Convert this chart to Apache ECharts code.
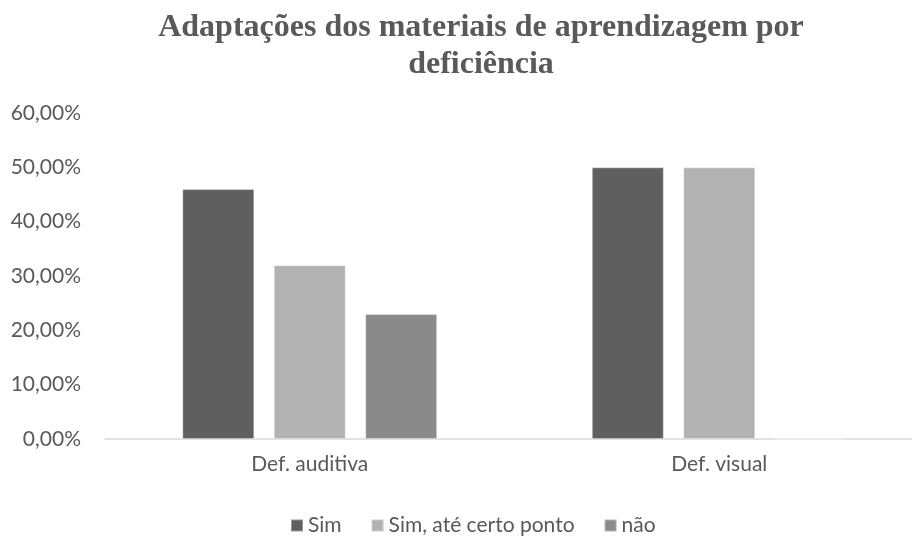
<!DOCTYPE html>
<html>
<head>
<meta charset="utf-8">
<script src="https://cdn.jsdelivr.net/npm/echarts@6/dist/echarts.min.js"></script>
<style>html,body{margin:0;padding:0;background:#fff;}#c{width:912px;height:536px;}</style>
</head>
<body>
<div id="c"></div>
<script>
const titleText = 'Adaptações dos materiais de aprendizagem por\ndeficiência';
const categories = ['Def. auditiva', 'Def. visual'];
const seriesNames = ['Sim', 'Sim, até certo ponto', 'não'];
const simValues = [0.46, 0.50];
const simAteValues = [0.32, 0.50];
const naoValues = [0.23, 0];
const yTicks = [0, 0.1, 0.2, 0.3, 0.4, 0.5, 0.6];
const colors = ['#5f5f5f', '#b2b2b2', '#8a8a8a'];

const font = 'Lato, "Open Sans", sans-serif';
const chart = echarts.init(document.getElementById('c'), null, {renderer: 'canvas'});
const fmt = v => (v * 100).toFixed(2).replace('.', ',') + '%';
const mk = (name, data, i) => ({
  name, type: 'bar', data, barWidth: 72, barGap: '27%',
  itemStyle: {color: colors[i], borderColor: 'rgba(255,255,255,0.35)', borderWidth: 1}
});
chart.setOption({
  animation: false,
  title: {
    text: titleText, left: 476, textAlign: 'center', top: 4,
    textStyle: {fontFamily: '"Liberation Serif", "Times New Roman", serif', fontWeight: 'bold', fontSize: 32, color: '#595959', lineHeight: 37}
  },
  legend: {
    top: 510, left: 285, itemWidth: 12, itemHeight: 12, itemGap: 29, icon: 'rect',
    textStyle: {fontFamily: font, fontSize: 21, color: '#595959'},
    data: seriesNames
  },
  grid: {left: 105, width: 819, top: 113, bottom: 97, containLabel: false, outerBoundsMode: 'none'},
  xAxis: {
    type: 'category', data: categories,
    axisLine: {lineStyle: {color: '#d9d9d9', width: 1.5}},
    axisTick: {show: false},
    axisLabel: {fontFamily: font, fontSize: 21, color: '#595959', margin: 15}
  },
  yAxis: {
    type: 'value', min: 0, max: 0.6, interval: 0.1,
    splitLine: {show: false},
    axisLabel: {fontFamily: font, fontSize: 21, color: '#595959', margin: 24, formatter: v => fmt(v)}
  },
  series: [mk(seriesNames[0], simValues, 0), mk(seriesNames[1], simAteValues, 1), mk(seriesNames[2], naoValues, 2)]
});
</script>
</body>
</html>
